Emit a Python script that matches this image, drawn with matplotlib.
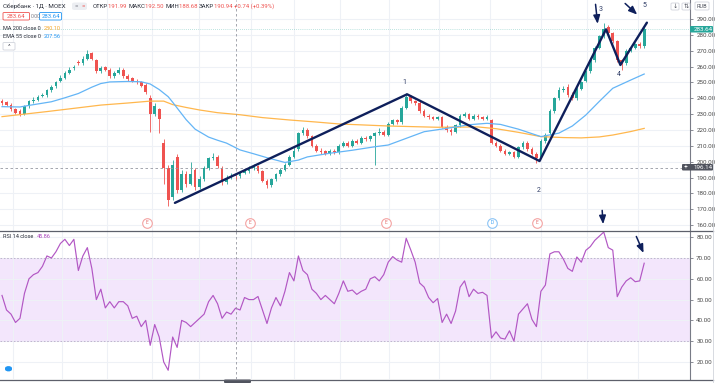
import matplotlib
matplotlib.use("Agg")
import matplotlib.pyplot as plt
from matplotlib.patches import FancyBboxPatch
from matplotlib.ticker import FormatStrFormatter
import numpy as np

plt.rcParams["font.family"] = ["Roboto", "DejaVu Sans"]

# Sberbank, 1D, MOEX - daily candles
opens = [238, 237.5, 236, 233, 232, 230, 235, 238, 239, 241.5,
         242, 245, 247.5, 251, 253, 256, 259, 263, 262, 265,
         268.5, 264, 257, 259.5, 258, 254, 256, 258, 254, 252.5,
         251, 250, 248.5, 240, 230, 233, 212, 196, 178, 203,
         182, 192, 186, 195, 184, 189, 196, 202, 203, 196,
         187, 190, 191.99, 191, 193, 194, 196, 197, 194, 188,
         185, 189, 192, 195, 198, 203, 208, 218, 220, 216,
         210, 207, 206.5, 205, 207, 206, 210, 212, 210, 213,
         212, 215, 214, 216, 218, 219, 217, 224, 226, 225,
         234, 241, 238, 237, 232, 229, 228, 227, 228, 222,
         220, 219, 223, 229, 230, 227, 229, 228, 227, 226,
         212, 210, 207, 205, 206, 203, 209, 212, 208, 205,
         203, 213, 218, 232, 240, 245, 247, 242, 240, 246,
         251, 257, 264, 272, 279, 285, 281, 276, 264, 262,
         270, 272, 274.5, 273]
closes = [237, 236, 233, 231, 230, 235, 238, 239, 241, 242,
          245, 247, 250, 253, 256, 258, 260, 262, 265, 268,
          265, 257, 259, 258, 254, 256, 258, 254, 252, 251,
          250, 248, 244, 230, 235, 227, 196, 176, 198, 182,
          192, 186, 192, 184, 189, 196, 202, 203, 197, 187,
          190, 191, 190.94, 193, 194, 196, 197, 194, 188, 185,
          189, 192, 195, 198, 203, 207, 218, 220, 216, 210,
          207, 206, 205, 207, 206, 210, 212, 210, 213, 212,
          215, 214, 216, 218, 219, 217, 224, 226, 225, 234,
          241, 238, 237, 232, 229, 228, 227, 228, 222, 220,
          219, 223, 229, 230, 227, 229, 228, 227, 228, 212,
          210, 207, 205, 206, 203, 209, 212, 208, 205, 202,
          213, 217, 232, 240, 245, 246, 242, 240, 246, 250,
          257, 264, 272, 279, 284, 281, 276, 264, 262, 270,
          272, 274, 273, 283.64]
highs = [239.5, 238.5, 237, 234, 233, 236, 239, 240.5, 242, 243.5,
         246, 248.5, 251, 254.5, 257, 259.5, 261, 264, 266.5, 270.5,
         269.5, 265, 260.5, 260.5, 259, 257, 259.5, 259, 255, 253.5,
         252, 251, 249.5, 242, 237, 234, 214, 198, 201, 205,
         195, 194, 200, 196, 191, 197.5, 203, 205.5, 204, 197,
         191.5, 193, 192.5, 194, 195.5, 197, 198.5, 198, 195, 189,
         190, 193, 196, 199, 204, 209, 219, 222, 221, 217,
         211, 208.5, 207.5, 208, 208, 211, 213, 213, 214.5, 214,
         216, 216, 217, 219, 221, 220, 225, 227, 227, 235,
         243.5, 242, 239, 238, 233, 230, 229, 229, 229, 223,
         221, 224, 230, 231.5, 231, 230, 230, 229, 229.5, 227,
         213, 211, 208, 207, 207, 210, 213, 213, 209, 206,
         214, 218, 233, 241, 247, 248, 249, 244, 247, 251,
         258, 265, 273, 280, 287.5, 286.5, 282, 277, 265, 271,
         273, 275, 275.5, 285]
lows = [236, 235, 232, 230, 229, 229.5, 234, 237, 238, 240.5,
        241, 244, 246.5, 250, 252, 255, 258, 261, 261, 264,
        264, 256, 256, 257, 253, 253, 255, 253, 251, 250,
        249, 247, 243, 219, 229, 218, 186, 172, 176, 180,
        181, 184, 185, 182, 183, 188, 195, 201, 196, 185,
        186, 189, 188.68, 190, 192, 193, 195, 193, 187, 183.5,
        184, 188, 191, 194, 197, 202, 207, 217, 215, 209,
        206, 205, 204, 204, 205, 205, 209, 209, 209, 211,
        211, 213, 213, 198, 217, 216, 216, 223, 224, 224,
        233, 237, 236, 231, 228, 227, 226, 226, 221, 219,
        217, 218, 222, 228, 226, 226, 227, 226, 226, 211,
        209, 206, 204, 204, 202, 202, 208, 207, 204, 199,
        202, 212, 217, 231, 239, 244, 241, 239, 239, 245,
        250, 256, 263, 271, 278, 280, 275, 263, 258, 261,
        269, 271, 272, 272]

rsi = [52, 45, 43, 39, 41, 53, 60, 62, 63, 66,
       71, 70, 73, 77, 79, 76, 79, 64, 71, 75,
       65, 50, 55, 46, 49, 46, 49, 49, 47, 41,
       42, 37, 40, 28, 38, 32, 20, 16, 32, 27,
       40, 39, 37, 39, 41, 43, 49, 52, 48, 41,
       44, 43, 45.86, 45, 51, 50, 50, 51.5, 45, 38.5,
       46, 51, 47, 54, 63, 59, 71, 64, 62, 55,
       53, 50, 52, 50, 48, 53, 59, 54, 54.6, 52.5,
       54, 55, 60, 61, 59, 62, 68, 70.7, 69, 68,
       79.5, 74, 68, 58, 56, 51, 48.5, 50.5, 39, 43,
       38.5, 44.5, 56, 59, 51.4, 55, 53, 53.5, 52, 31.5,
       34.5, 31.5, 31, 35, 30, 43, 45.5, 48, 40.5, 37,
       54, 57, 72, 73, 73, 69.5, 65, 63.6, 70.5, 68,
       73.7, 75.5, 78.5, 80.5, 82.5, 75, 73.8, 51.4, 56, 59,
       60.5, 58.6, 59, 67.5]

# moving averages, read at a few candles
ema_idx = [0, 4, 6, 11, 14, 17, 20, 22, 24, 28, 31, 33, 35, 37, 38, 41, 43, 46, 48, 50,
           53, 56, 59, 63, 66, 68, 73, 78, 83, 86, 90, 94, 99, 104, 108, 111, 115, 120,
           124, 127, 130, 133, 136, 140, 143]
ema_val = [234.7, 234.5, 235.5, 237.8, 240.3, 243, 247, 249.3, 250.3, 250.6, 250.4, 249, 245.5,
           241, 237.5, 226.5, 220.5, 215.5, 213.5, 211.7, 207.4, 205, 202.5, 199.5, 201, 203,
           205.3, 207.2, 209.4, 210.5, 214.7, 218.9, 221, 223.3, 224.2, 223.5, 220.5, 215.8,
           218, 222.5, 229.4, 238, 246.3, 251.5, 255.3]
ma_idx = [0, 5, 10, 15, 22, 28, 33, 36, 38, 41, 44, 48, 53, 58, 64, 70, 75, 86, 97, 106,
          110, 115, 120, 125, 129, 133, 136, 140, 143]
ma_val = [228.4, 230, 231.6, 233.3, 235.7, 237, 238.2, 238.2, 236, 234.2, 232.6, 230.9, 229.6,
          227.8, 226.3, 225, 223.8, 222.5, 221.7, 221.9, 220.8, 218.5, 215.8, 215.2, 215,
          215.6, 216.8, 219, 221]

# hand-drawn Elliott count
wave_idx = [38.5, 90.2, 119.7, 134.5, 137.7, 143.6]
wave_px = [174, 242.5, 200.4, 283.5, 261, 287.7]
wave_lbl = ["1", "2", "3", "4", "5"]
wave_lbl_px = [250.2, 181.5, 296, 255, 298.8]
wave_lbl_idx = [89.6, 119.4, 133.4, 137.4, 143]

# earnings / dividends markers
event_idx = [32.3, 55.2, 85.5, 109.1, 119.2]
event_lbl = ["E", "E", "E", "D", "E"]

month_idx = [2.45, 13.4, 23.4, 33.4, 43.9, 55.5, 65.0, 75.3, 86.2, 97.3, 108.7, 120.1, 130.3, 141.6]

GREEN = "#26a69a"
RED = "#ef5350"
GRID = "#eef1f6"
NAVY = "#0e1f5b"
TXT = "#2a2e39"

W, H = 720, 383
fig = plt.figure(figsize=(7.2, 3.83), dpi=100)
fig.patch.set_facecolor("white")


def fx(px):
    return px / W


def fy(py):
    return 1 - py / H


ax = fig.add_axes([0, fy(231), fx(690), 231 / H])
rs = fig.add_axes([0, fy(379), fx(690), 148 / H], sharex=ax)

ax.set_xlim(-0.45, 153.2)
ax.set_ylim(156.25, 302)
rs.set_ylim(11.8, 83.0)

for a in (ax, rs):
    a.set_xticks(month_idx)
    a.tick_params(axis="x", bottom=False, labelbottom=False)
    a.grid(True, color=GRID, lw=0.8)
    a.set_axisbelow(True)
    a.yaxis.tick_right()
    a.tick_params(axis="y", length=2, width=0.6, color="#787b86", labelsize=4.5,
                  labelcolor="#4a4a4a", pad=2.5)
    a.yaxis.set_major_formatter(FormatStrFormatter("%.2f"))
    for s in ("top", "left", "bottom"):
        a.spines[s].set_visible(False)
    a.spines["right"].set_color("#787b86")
    a.spines["right"].set_linewidth(0.8)

ax.set_yticks(np.arange(160, 300, 10))
rs.set_yticks(np.arange(20, 90, 10))

# candles
idx = np.arange(len(closes))
o = np.array(opens)
c = np.array(closes)
cols = np.where(c >= o, GREEN, RED)
ax.vlines(idx, lows, highs, colors=cols, lw=0.6, zorder=2)
ax.bar(idx, np.maximum(np.abs(c - o), 0.4), bottom=np.minimum(o, c), width=0.6,
       color=cols, lw=0, zorder=3)

ax.plot(ma_idx, ma_val, color="#ffb74d", lw=0.9, zorder=4)
ax.plot(ema_idx, ema_val, color="#64b5f6", lw=0.9, zorder=4)

# last price line
ax.axhline(closes[-1], color=GREEN, lw=0.5, ls=(0, (1, 2)), alpha=0.6, zorder=1)

# wave count
ax.plot(wave_idx, wave_px, color=NAVY, lw=1.7, zorder=6, solid_capstyle="round")
for lx, ly, s in zip(wave_lbl_idx, wave_lbl_px, wave_lbl):
    ax.text(lx, ly, s, color="#2f3d66", fontsize=5, ha="center", va="center", zorder=7)

# arrows
arrow_kw = dict(arrowstyle="-|>,head_length=0.5,head_width=0.2", color=NAVY, lw=1.1)
ax.annotate("", xy=(132.7, 285.2), xytext=(132.1, 301), arrowprops=arrow_kw,
            annotation_clip=False, zorder=8)
ax.annotate("", xy=(141.9, 291.6), xytext=(138.3, 301), arrowprops=arrow_kw,
            annotation_clip=False, zorder=8)
ax.annotate("", xy=(133.9, 158.8), xytext=(133.6, 171), arrowprops=arrow_kw,
            annotation_clip=False, zorder=8)
rs.annotate("", xy=(143.1, 71.2), xytext=(141, 81.6), arrowprops=arrow_kw,
            annotation_clip=False, zorder=8)

# event markers
for ex, el in zip(event_idx, event_lbl):
    ec = "#f4a3a2" if el == "E" else "#8cc4f5"
    tc = "#e57373" if el == "E" else "#42a5f5"
    ax.scatter([ex], [161.4], s=48, facecolor="white", edgecolor=ec, lw=0.8, zorder=9,
               clip_on=False)
    ax.text(ex, 161.4, el, fontsize=3.6, color=tc, ha="center", va="center", zorder=10)

# RSI panel
rs.axhspan(30, 70, color="#f3e6fc", lw=0, zorder=0)
rs.axhline(70, color="#b9a9c9", lw=0.6, ls=(0, (2, 2)), zorder=1)
rs.axhline(30, color="#b9a9c9", lw=0.6, ls=(0, (2, 2)), zorder=1)
rs.plot(idx, rsi, color="#b257c4", lw=0.85, zorder=4)

# crosshair
cross_i = 52
ax.axhline(196.14, xmax=fx(682) / fx(690), color="#9598a1", lw=0.6, ls=(0, (3, 3)), zorder=5)
ax.axvline(cross_i, color="#9598a1", lw=0.6, ls=(0, (3, 3)), zorder=5)
rs.axvline(cross_i, color="#9598a1", lw=0.6, ls=(0, (3, 3)), zorder=5)

# panel separators and right side frame
fig.add_artist(plt.Line2D([0, fx(713)], [fy(231), fy(231)], color="#5d606b", lw=0.9))
fig.add_artist(plt.Line2D([0, fx(713)], [fy(379.5), fy(379.5)], color="#5d606b", lw=0.9))
fig.add_artist(plt.Line2D([fx(713), fx(713)], [0, 1], color="#d1d4dc", lw=0.6))


def box(x0, y0, x1, y1, fc, ec="none", lw=0.6, r=0.002):
    fig.add_artist(FancyBboxPatch((fx(x0), fy(y1)), fx(x1 - x0), (y1 - y0) / H,
                                  boxstyle=f"round,pad=0,rounding_size={r}",
                                  fc=fc, ec=ec, lw=lw, transform=fig.transFigure))


def t(x, y, s, **kw):
    kw.setdefault("fontsize", 4.2)
    kw.setdefault("color", TXT)
    return fig.text(fx(x), fy(y), s, ha=kw.pop("ha", "left"), va="center", **kw)


renderer = fig.canvas.get_renderer()


def chain(x, y, parts, size, gap=0.0):
    # place text pieces one after another, starting at pixel x
    for s, col in parts:
        txt = t(x, y, s, color=col, fontsize=size)
        x += txt.get_window_extent(renderer).width + gap
    return x


# price axis badges
box(690, 26, 713, 32.5, GREEN)
t(694, 29.2, "283.64", color="white", fontsize=4.5)
box(682, 164, 713, 170.5, "#50535e")
t(684, 167.2, "+", color="white", fontsize=5)
t(693.5, 167.2, "196.14", color="white", fontsize=4.5)
box(224, 379.5, 251, 383, "#50535e")

# top right buttons
box(671, 3, 679, 10, "white", ec="#d1d4dc")
t(675, 6.5, "↓", fontsize=4.5, ha="center", color="#50535e")
box(682, 3, 690, 10, "white", ec="#d1d4dc")
t(686, 6.5, "⇅", fontsize=4.5, ha="center", color="#50535e")
box(695, 2, 709, 10, "white", ec="#d1d4dc")
t(702, 6, "RUB", fontsize=4.0, ha="center", color="#50535e")

# legend texts
t(3, 6.3, "Сбербанк · 1Д · MOEX", fontsize=4.5)
box(72, 2.5, 87, 10, "#eceef2", r=0.004)
t(76.5, 6.3, "=", fontsize=4.5, ha="center", color="#787b86")
t(83, 6.3, "=", fontsize=4.5, ha="center", color=RED)
chain(93, 6.3, [("ОТКР", TXT), ("191.99 ", RED), ("МАКС", TXT), ("192.50 ", RED),
                ("МИН", TXT), ("188.68 ", RED), ("ЗАКР", TXT),
                ("190.94 +0.74 (+0.39%)", RED)], 4.3)

box(3, 12.5, 29.5, 20, "white", ec=RED, lw=0.6)
t(16.2, 16.3, "283.64", color=RED, fontsize=4.3, ha="center")
t(31, 16.3, "0.00", color="#787b86", fontsize=3.8)
box(39.5, 12.5, 61.5, 20, "white", ec="#2196f3", lw=0.6)
t(50.5, 16.3, "283.64", color="#2196f3", fontsize=4.3, ha="center")
chain(3, 28, [("MA 200 close 0", TXT), ("230.10", "#f6a623")], 4.0, gap=3)
chain(3, 37, [("EMA 55 close 0", TXT), ("207.56", "#2196f3")], 4.0, gap=3)
box(3, 42.5, 15, 50, "white", ec="#d1d4dc")
t(9, 46, "^", fontsize=4.5, ha="center", color="#50535e")
chain(3, 237, [("RSI 14 close", TXT), ("45.86", "#ab47bc")], 4.0, gap=4)
box(5, 366, 12, 371.5, "#2196f3", r=0.006)

fig.savefig("out.png", dpi=100)
